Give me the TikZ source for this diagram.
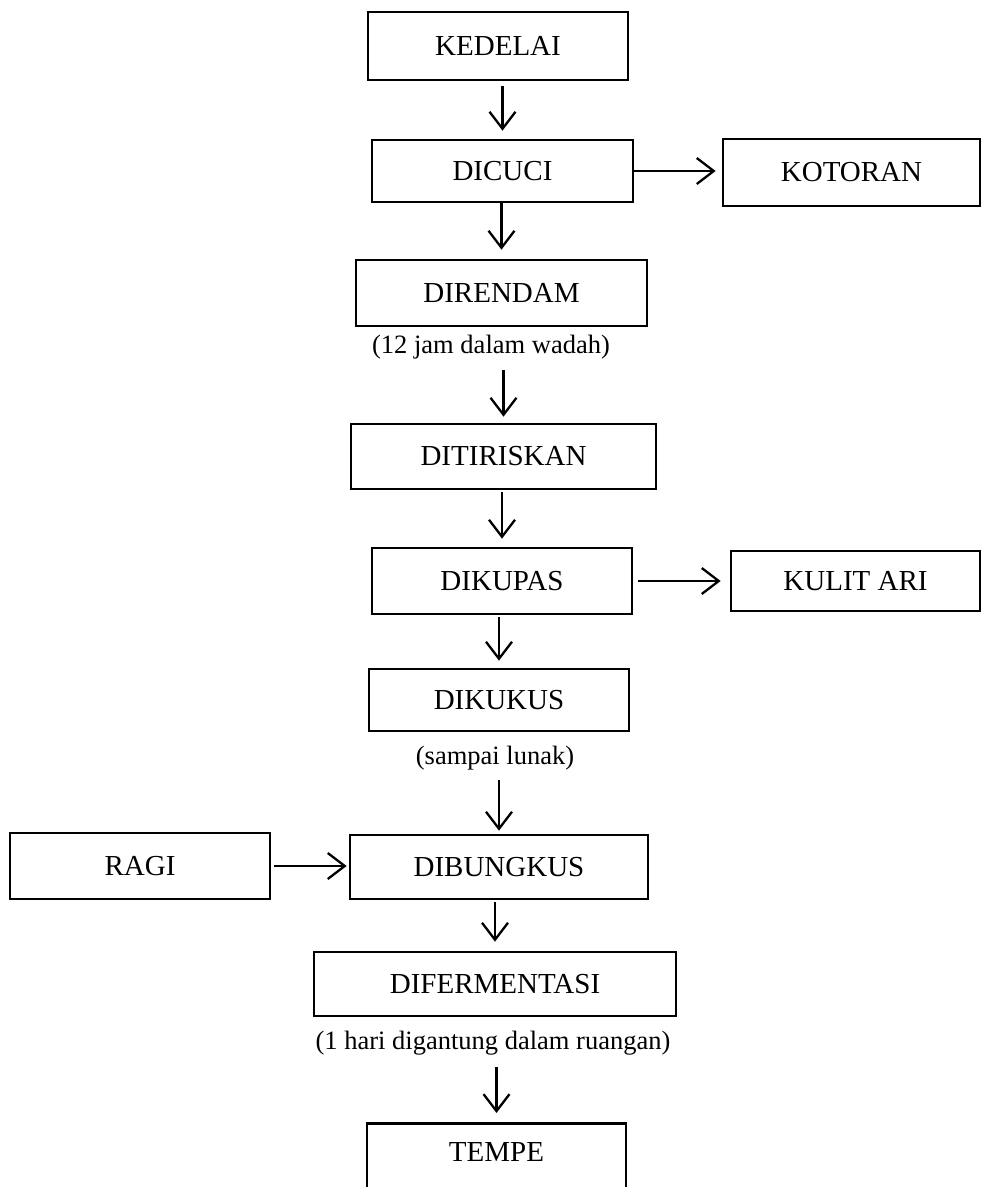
\documentclass[tikz,border=0pt]{standalone}
\usepackage{fontspec}
\setmainfont{Liberation Serif}
\usetikzlibrary{arrows.meta}

\begin{document}
\begin{tikzpicture}[
    x=1pt, y=-1pt,
    box/.style={rectangle, draw, line width=2.7pt, align=center, inner sep=0pt, font=\fontsize{29}{34}\selectfont},
    note/.style={inner sep=0pt, font=\fontsize{26.5}{32}\selectfont},
    arrow/.style={-{Straight Barb[length=17pt,width=26pt]}, line width=2.3pt}
  ]
    \useasboundingbox (0,0) rectangle (981,1187);

    \node[box, minimum width=260pt, minimum height=68pt] (kedelai) at (498,46) {KEDELAI};
    \node[box, minimum width=261pt, minimum height=62pt] (dicuci) at (502.5,171) {DICUCI};
    \node[box, minimum width=257pt, minimum height=67pt] (kotoran) at (851.5,172.5) {KOTORAN};
    \node[box, minimum width=291pt, minimum height=66pt] (direndam) at (501.5,293) {DIRENDAM};
    \node[note] (wadah) at (491,347) {(12 jam dalam wadah)};
    \node[box, minimum width=305pt, minimum height=65pt] (ditiriskan) at (503.5,456.5) {DITIRISKAN};
    \node[box, minimum width=260pt, minimum height=66pt] (dikupas) at (502,581) {DIKUPAS};
    \node[box, minimum width=249pt, minimum height=60pt] (kulitari) at (855.5,581) {KULIT ARI};
    \node[box, minimum width=260pt, minimum height=62pt] (dikukus) at (499,700) {DIKUKUS};
    \node[note] (lunak) at (495,758) {(sampai lunak)};
    \node[box, minimum width=260pt, minimum height=66pt] (ragi) at (140,866) {RAGI};
    \node[box, minimum width=298pt, minimum height=64pt] (dibungkus) at (499,867) {DIBUNGKUS};
    \node[box, minimum width=362pt, minimum height=64pt] (difermentasi) at (495,984) {DIFERMENTASI};
    \node[note] (ruangan) at (493,1043) {(1 hari digantung dalam ruangan)};
    \node[box, minimum width=259pt, inner ysep=19.5pt, text depth=50pt, anchor=north] (tempe) at (496.5,1122) {TEMPE};

    \draw[arrow, shorten <=5pt, shorten >=8pt] (kedelai.south -| dicuci.north) -- (dicuci.north);
    \draw[arrow, shorten <=3pt, shorten >=9pt] (dicuci.south) -- (dicuci.south -| direndam.north) -- (direndam.north);
    \draw[arrow, shorten <=11pt, shorten >=6pt] (wadah.south -| ditiriskan.north) -- (ditiriskan.north);
    \draw[arrow, shorten <=2pt, shorten >=8pt] (ditiriskan.south -| dikupas.north) -- (dikupas.north);
    \draw[arrow, shorten <=2pt, shorten >=7pt] (dikupas.south -| dikukus.north) -- (dikukus.north);
    \draw[arrow, shorten <=10pt, shorten >=3pt] (lunak.south -| dibungkus.north) -- (dibungkus.north);
    \draw[arrow, shorten <=2pt, shorten >=9pt] (dibungkus.south -| difermentasi.north) -- (difermentasi.north);
    \draw[arrow, shorten <=12pt, shorten >=9pt] (ruangan.south -| tempe.north) -- (tempe.north);

    \draw[arrow, shorten >=6pt] (dicuci.east) -- (dicuci.east -| kotoran.west);
    \draw[arrow, shorten <=5pt, shorten >=9pt] (dikupas.east) -- (kulitari.west);
    \draw[arrow, shorten <=3pt, shorten >=2pt] (ragi.east) -- (ragi.east -| dibungkus.west);
  \end{tikzpicture}
\end{document}
